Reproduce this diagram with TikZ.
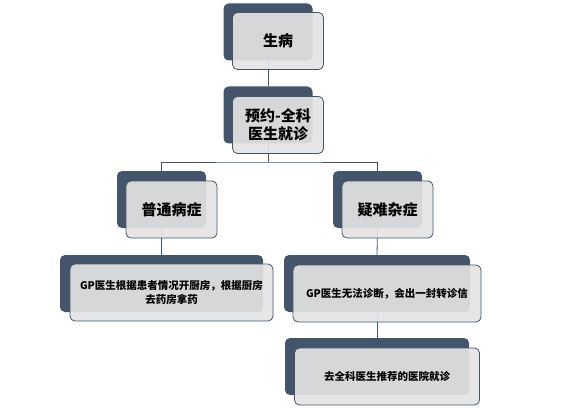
\documentclass[tikz,border=0pt]{standalone}
\usepackage{fontspec}
\newfontfamily\cjk{Noto Sans CJK SC}
\usepackage{tikz}
\usetikzlibrary{positioning,backgrounds}
\definecolor{slate}{HTML}{44546A}
\definecolor{paleg}{HTML}{E4E4E4}

\begin{document}
\begin{tikzpicture}[x=1pt,y=-1pt,
    back/.style={fill=slate,rounded corners=5pt,minimum width=89pt,minimum height=57pt,inner sep=0pt},
    front/.style={draw=slate,line width=0.8pt,fill=paleg,fill opacity=0.91,text opacity=1,rounded corners=5pt,
      minimum width=91pt,minimum height=57pt,inner sep=0pt,align=center,font=\cjk\bfseries\fontsize{15}{18}\selectfont},
    leaf/.style={font=\cjk\bfseries\fontsize{10.5}{14}\selectfont},
    link/.style={draw=slate,line width=0.8pt}]
  \useasboundingbox (0,0) rectangle (569,414);

  % dark back plates
  \node[back] (b1) at (268,32) {};
  \node[back] (b2) at (268,115) {};
  \node[back] (b3) at (161.5,199.5) {};
  \node[back] (b5) at (377.5,199.5) {};
  \node[back,minimum width=203pt] (b4) at (161.5,283.5) {};
  \node[back,minimum width=186pt] (b6) at (377,283.5) {};
  \node[back,minimum width=184pt] (b7) at (377,366.5) {};

  % light front boxes
  \node[front] (f1) at ([xshift=10pt,yshift=-9pt]b1.center) {生病};
  \node[front] (f2) at ([xshift=10pt,yshift=-10pt]b2.center) {预约-全科\\医生就诊};
  \node[front] (f3) at ([xshift=10pt,yshift=-10pt]b3.center) {普通病症};
  \node[front] (f5) at ([xshift=10pt,yshift=-10pt]b5.center) {疑难杂症};
  \node[front,leaf,minimum width=203pt] (f4) at ([xshift=10pt,yshift=-9pt]b4.center) {GP医生根据患者情况开厨房，根据厨房\\去药房拿药};
  \node[front,leaf,minimum width=188pt] (f6) at ([xshift=10pt,yshift=-10pt]b6.center) {GP医生无法诊断，会出一封转诊信};
  \node[front,leaf,minimum width=185pt] (f7) at ([xshift=10pt,yshift=-10pt]b7.center) {去全科医生推荐的医院就诊};

  \coordinate (split) at (268,162);

  \begin{scope}[on background layer]
    \draw[link] (b1.south) -- (b2.north);
    \draw[link] (b2.south) -- (split);
    \draw[link] (b3.north) |- (split) -| (b5.north);
    \draw[link] (b3.south) -- (b4.north);
    \draw[link] (b5.south) -- (b6.north);
    \draw[link] (b6.south) -- (b7.north);
  \end{scope}
\end{tikzpicture}
\end{document}
